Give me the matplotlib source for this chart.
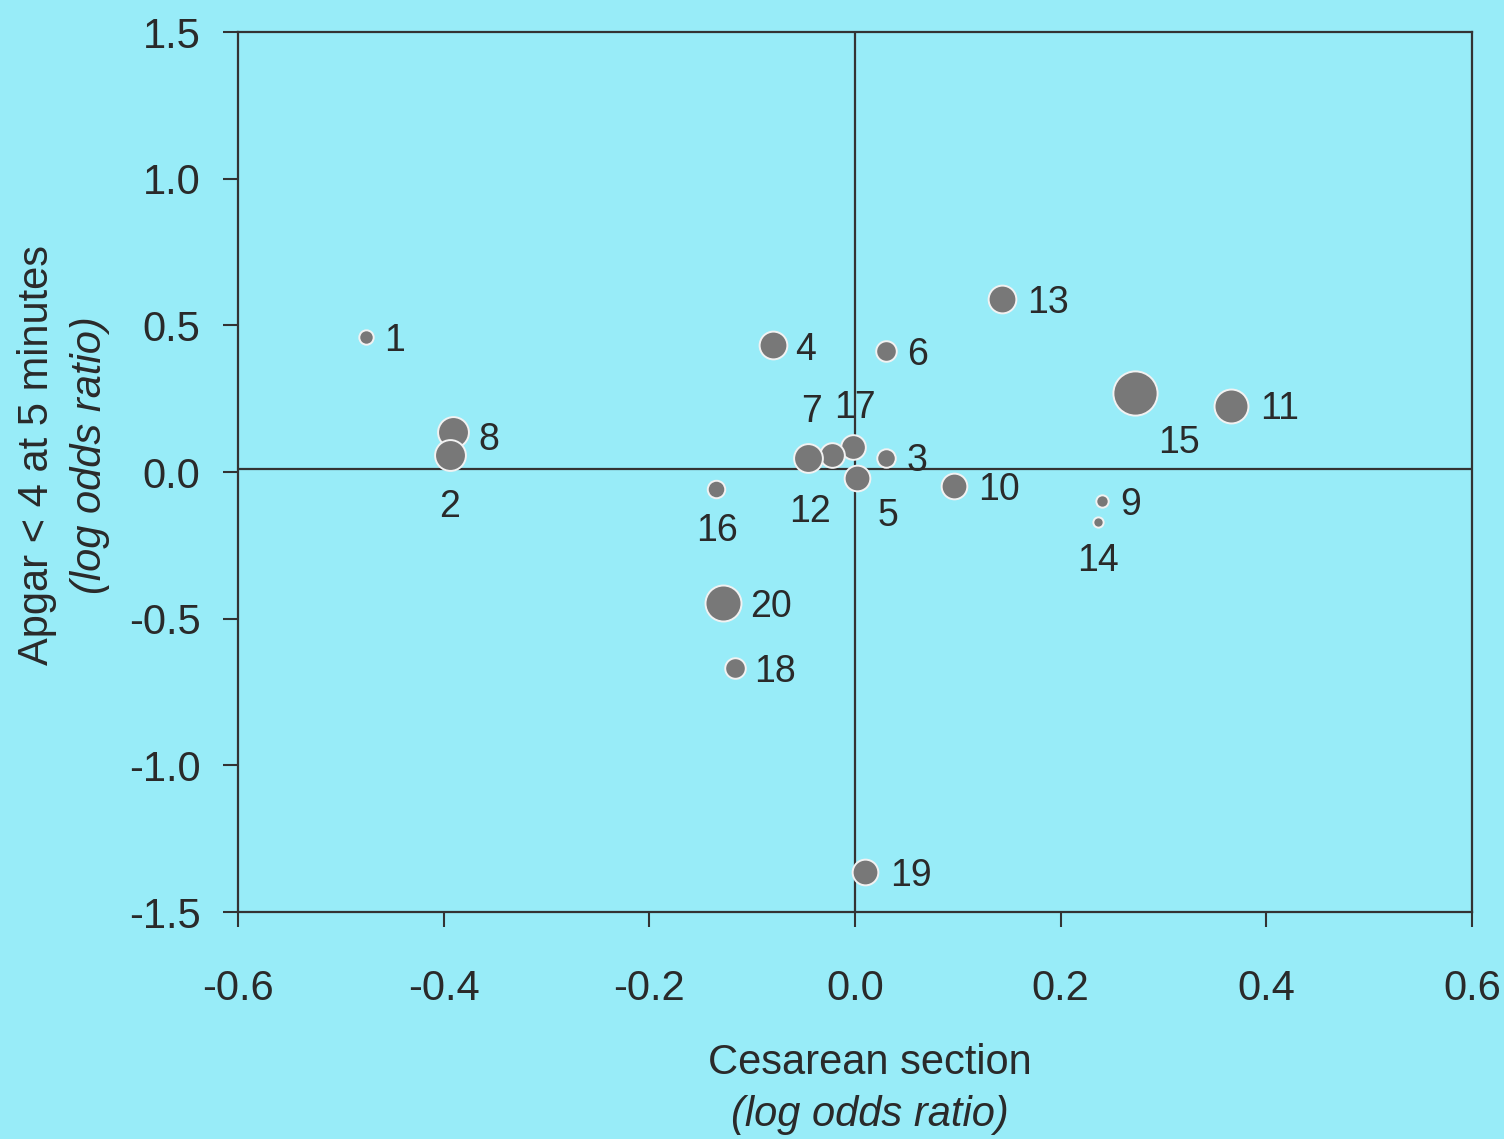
import matplotlib
matplotlib.use("Agg")
import matplotlib.pyplot as plt

plt.rcParams['font.family'] = ['Liberation Sans', 'DejaVu Sans']

# ---- data ----
study_ids = list(range(1, 21))
cesarean_log_or = [-0.476, -0.394, 0.030, -0.080, 0.002, 0.030, -0.046, -0.391, 0.240, 0.096,
                   0.366, -0.022, 0.143, 0.236, 0.272, -0.135, -0.002, -0.117, 0.010, -0.128]
apgar_log_or = [0.460, 0.058, 0.048, 0.433, -0.020, 0.413, 0.048, 0.136, -0.099, -0.048,
                0.225, 0.058, 0.590, -0.171, 0.269, -0.058, 0.085, -0.668, -1.364, -0.447]
study_weight = [14, 30, 18, 27, 25, 20, 28, 30, 12, 25, 33, 24, 27, 10, 43, 17, 24, 20, 25, 35]
x_ticks = [-0.6, -0.4, -0.2, 0.0, 0.2, 0.4, 0.6]
y_ticks = [-1.5, -1.0, -0.5, 0.0, 0.5, 1.0, 1.5]

# label offsets (pixels, dx right, dy down)
label_offsets = {1: (29, 0), 2: (0, 48), 3: (31, -1), 4: (33, 1), 5: (31, 34), 6: (32, 0),
                 7: (4, -50), 8: (36, 4), 9: (29, 0), 10: (45, 0), 11: (48, -1), 12: (-22, 53),
                 13: (46, 0), 14: (0, 35), 15: (44, 46), 16: (1, 38), 17: (2, -43), 18: (40, 0),
                 19: (46, 0), 20: (48, 0)}

BG = '#98ECF8'
TXT = '#2a2a2a'
fig = plt.figure(figsize=(15.04, 11.39), dpi=100, facecolor=BG)
ax = fig.add_axes([238/1504, 1-912/1139, (1472-238)/1504, (912-32)/1139])
ax.set_facecolor(BG)
ax.set_xlim(-0.6, 0.6)
ax.set_ylim(-1.5, 1.5)

ax.axhline(0.01, color='#333333', lw=1.6, zorder=1)
ax.axvline(0.0, color='#333333', lw=1.6, zorder=1)

for i in reversed(range(len(study_ids))):
    d = study_weight[i] * 0.74
    ax.scatter([cesarean_log_or[i]], [apgar_log_or[i]], s=d**2, c='#787878',
               edgecolors='#f2f2f2', linewidths=1.4, zorder=3)

for i, sid in enumerate(study_ids):
    dx, dy = label_offsets[sid]
    ax.annotate(str(sid), (cesarean_log_or[i], apgar_log_or[i]),
                xytext=(dx*0.72, -(dy + 4)*0.72), textcoords='offset points',
                ha='center', va='center', fontsize=27, color=TXT, zorder=4)

ax.set_xticks(x_ticks)
ax.set_yticks(y_ticks)
ax.set_xticklabels([f'{v:.1f}' for v in x_ticks])
ax.set_yticklabels([f'{v:.1f}' for v in y_ticks])
ax.tick_params(direction='out', length=11, width=1.5, color='#333333',
               labelsize=30, labelcolor=TXT)
ax.tick_params(axis='x', pad=30)
ax.tick_params(axis='y', pad=16)
for s in ax.spines.values():
    s.set_color('#333333')
    s.set_linewidth(1.6)

fig.text(870/1504, 1-1063/1139, 'Cesarean section', ha='center', va='center',
         fontsize=30, color=TXT)
fig.text(870/1504, 1-1115/1139, '(log odds ratio)', ha='center', va='center',
         fontsize=30, color=TXT, style='italic')
fig.text(37/1504, 1-455/1139, 'Apgar < 4 at 5 minutes', ha='center', va='center',
         fontsize=30, color=TXT, rotation=90)
fig.text(90/1504, 1-455/1139, '(log odds ratio)', ha='center', va='center',
         fontsize=30, color=TXT, style='italic', rotation=90)

fig.savefig('out.png', dpi=100, facecolor=BG)
